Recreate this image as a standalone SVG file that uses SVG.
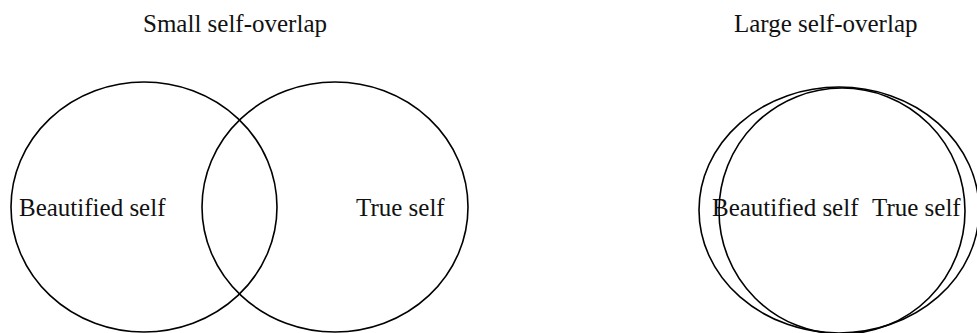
<svg xmlns="http://www.w3.org/2000/svg" width="977" height="333" viewBox="0 0 977 333">
<style>
.c{fill:none;stroke:#000;stroke-width:1.6}
.t{font-family:"Liberation Serif","Times New Roman",serif;font-size:25px;fill:#111}
</style>
<rect width="977" height="333" fill="#fff"/>
<text class="t" x="143" y="32">Small self-overlap</text>
<text class="t" x="734" y="32">Large self-overlap</text>
<g id="beautified-small">
<ellipse class="c" cx="144" cy="207" rx="133" ry="125"/>
<text class="t" x="19" y="216">Beautified self</text>
</g>
<g id="true-small">
<ellipse class="c" cx="335" cy="207" rx="133" ry="125"/>
<text class="t" x="356" y="216">True self</text>
</g>
<g id="beautified-large">
<ellipse class="c" cx="839" cy="210" rx="140" ry="123"/>
<text class="t" x="712" y="216">Beautified self</text>
</g>
<g id="true-large">
<ellipse class="c" cx="842" cy="211" rx="123" ry="123"/>
<text class="t" x="872" y="216">True self</text>
</g>
<g id="connectors"></g>
</svg>
